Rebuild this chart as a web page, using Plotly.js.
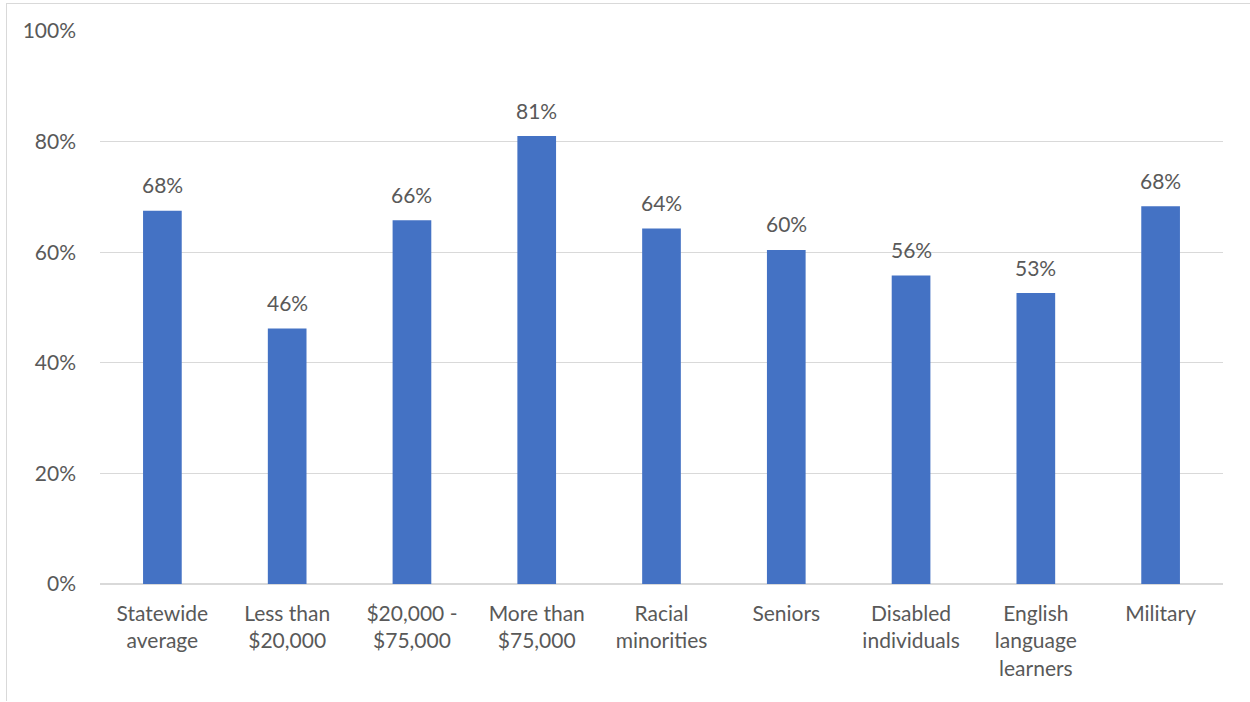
<!DOCTYPE html>
<html>
<head>
<meta charset="utf-8">
<script src="https://cdn.plot.ly/plotly-3.0.1.min.js"></script>
<style>
  html, body { margin: 0; padding: 0; background: #fff; }
  #chart { width: 1250px; height: 702px; }
  #frame { position: absolute; left: 6px; top: 3px; width: 1250px; height: 697px;
           border-left: 1.5px solid #d9d9d9; border-top: 1.5px solid #d9d9d9; pointer-events: none; }
</style>
</head>
<body>
<div id="chart"></div>
<div id="frame"></div>
<script>
const categories = [
  "Statewide<br>average",
  "Less than<br>$20,000",
  "$20,000 -<br>$75,000",
  "More than<br>$75,000",
  "Racial<br>minorities",
  "Seniors",
  "Disabled<br>individuals",
  "English<br>language<br>learners",
  "Military"
];
const values = [67.5, 46.2, 65.8, 81.0, 64.3, 60.4, 55.8, 52.6, 68.3];
const yTicks = [0, 20, 40, 60, 80, 100];

const textColor = "#595959";
const fontFamily = "Lato, 'Open Sans', sans-serif";

const trace = {
  type: "bar",
  x: categories,
  y: values,
  width: 0.31,
  marker: { color: "#4472C4" },
  hoverinfo: "skip"
};

const annotations = values.map((v, i) => ({
  x: categories[i],
  y: v,
  xref: "x",
  yref: "y",
  text: Math.round(v) + "%",
  showarrow: false,
  yanchor: "middle",
  yshift: 26,
  font: { family: fontFamily, size: 21, color: textColor }
}));

const layout = {
  width: 1250,
  height: 702,
  margin: { l: 100, r: 27, t: 31, b: 118 },
  paper_bgcolor: "#ffffff",
  plot_bgcolor: "#ffffff",
  showlegend: false,
  font: { family: fontFamily, size: 21, color: textColor },
  xaxis: {
    type: "category",
    showgrid: false,
    showline: false,
    zeroline: false,
    ticks: "",
    ticklabelstandoff: 15,
    tickfont: { family: fontFamily, size: 21, color: textColor }
  },
  yaxis: {
    range: [0, 100],
    tickvals: yTicks,
    ticktext: yTicks.map(t => t + "%"),
    showgrid: true,
    gridcolor: "#d9d9d9",
    gridwidth: 1.3,
    zeroline: true,
    zerolinecolor: "#d9d9d9",
    zerolinewidth: 1.3,
    showline: false,
    ticks: "",
    ticklabelstandoff: 23,
    tickfont: { family: fontFamily, size: 21, color: textColor }
  },
  annotations: annotations
};

Plotly.newPlot("chart", [trace], layout, { displayModeBar: false, staticPlot: true });
</script>
</body>
</html>
